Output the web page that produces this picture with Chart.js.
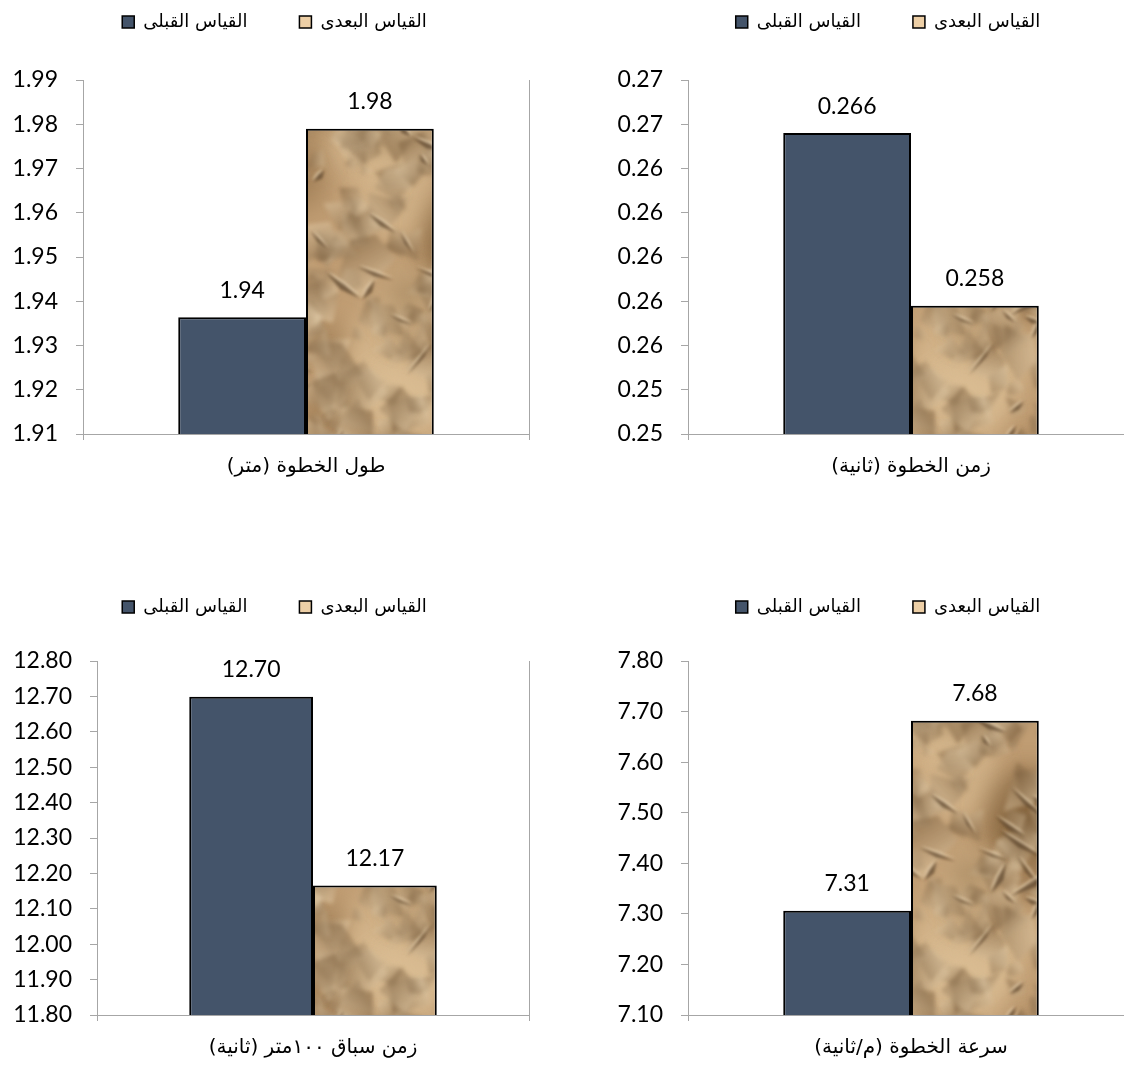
<!DOCTYPE html>
<html>
<head>
<meta charset="utf-8">
<script src="https://cdn.jsdelivr.net/npm/chart.js@4.4.1/dist/chart.umd.min.js"></script>
<style>
    body {
        margin: 0;
        background: #fff;
        width: 1124px;
        height: 1066px;
        overflow: hidden;
        position: relative;
    }
    .panel {
        position: absolute;
        height: 500px;
    }
</style>
</head>
<body>
<div class="panel" style="left:0;top:0;width:562px"><canvas id="chart-length"></canvas></div>
<div class="panel" style="left:562px;top:0;width:572px"><canvas id="chart-time"></canvas></div>
<div class="panel" style="left:0;top:581px;width:562px"><canvas id="chart-race"></canvas></div>
<div class="panel" style="left:562px;top:581px;width:572px"><canvas id="chart-speed"></canvas></div>

<script>
// data
const seriesNames = ["القياس القبلى", "القياس البعدى"];
const categories = ["طول الخطوة (متر)", "زمن الخطوة (ثانية)", "زمن سباق ١٠٠متر (ثانية)", "سرعة الخطوة (م/ثانية)"];
const preValues = [1.9364, 0.2656, 12.699, 7.306];
const postValues = [1.979, 0.2578, 12.166, 7.682];
const axisMin = [1.91, 0.252, 11.8, 7.1];
const axisMax = [1.99, 0.268, 12.8, 7.8];
const axisStep = [0.01, 0.002, 0.1, 0.1];
const tickDecimals = [2, 2, 2, 2];
const valueDecimals = [2, 3, 2, 2];

const numFont = "Lato, 'DejaVu Sans', sans-serif";
const arFont = "'DejaVu Sans', sans-serif";
const axisGray = '#A6A6A6';
const preColor = '#44546A';
const legendFill = [preColor, '#EDCFA6'];

//crumpled paper look for the post-test bars (seeded so it is the same every run)
function paperTexture(w, h) {
    const c = document.createElement('canvas');
    c.width = w;
    c.height = h;
    const g = c.getContext('2d');
    let seed = 20240;
    const rnd = () => {
        seed = (seed * 16807) % 2147483647;
        return (seed - 1) / 2147483646;
    };
    g.fillStyle = '#c09d73';
    g.fillRect(0, 0, w, h);

    // big soft light / dark areas
    g.filter = 'blur(12px)';
    for (let i = 0; i < 90; i++) {
        g.beginPath();
        g.arc(rnd() * w, rnd() * h, 15 + rnd() * 35, 0, Math.PI * 2);
        g.fillStyle = rnd() < 0.5 ? 'rgba(226,198,156,0.5)' : 'rgba(118,86,50,0.35)';
        g.fill();
    }

    // facets, each shaded from light to dark
    g.filter = 'blur(2px)';
    for (let i = 0; i < 700; i++) {
        const x = rnd() * w, y = rnd() * h, r = 8 + rnd() * 22;
        const n = 3 + Math.floor(rnd() * 3);
        const a0 = rnd() * Math.PI * 2;
        g.beginPath();
        for (let k = 0; k < n; k++) {
            const a = a0 + k * Math.PI * 2 / n + rnd() * 0.7;
            const rr = r * (0.5 + rnd() * 0.7);
            g.lineTo(x + Math.cos(a) * rr, y + Math.sin(a) * rr);
        }
        g.closePath();
        const ga = rnd() * Math.PI * 2;
        const grad = g.createLinearGradient(x - Math.cos(ga) * r, y - Math.sin(ga) * r,
            x + Math.cos(ga) * r, y + Math.sin(ga) * r);
        grad.addColorStop(0, 'rgba(236,214,178,0.5)');
        grad.addColorStop(1, 'rgba(105,76,44,0.45)');
        g.fillStyle = grad;
        g.fill();
    }

    // creases: tapered dark folds with a light ridge beside them
    g.filter = 'blur(1.6px)';
    for (let i = 0; i < 170; i++) {
        const x = rnd() * w, y = rnd() * h;
        const ang = (rnd() < 0.7 ? 0.7 : -0.8) + (rnd() - 0.5) * 0.7;
        const len = 14 + rnd() * 36;
        const wdt = 1.5 + rnd() * 3;
        const ux = Math.cos(ang), uy = Math.sin(ang);
        const nx = -uy, ny = ux;
        const fold = (ox, oy, col) => {
            g.beginPath();
            g.moveTo(x + ox, y + oy);
            g.lineTo(x + ux * len * 0.5 + nx * wdt + ox, y + uy * len * 0.5 + ny * wdt + oy);
            g.lineTo(x + ux * len + ox, y + uy * len + oy);
            g.lineTo(x + ux * len * 0.5 - nx * wdt * 0.4 + ox, y + uy * len * 0.5 - ny * wdt * 0.4 + oy);
            g.closePath();
            g.fillStyle = col;
            g.fill();
        };
        fold(-nx * 2.5, -ny * 2.5, 'rgba(240,220,186,0.6)');
        fold(0, 0, 'rgba(74,50,28,0.65)');
    }
    g.filter = 'none';
    return c;
}

const paper = paperTexture(600, 520);

// write the value above each bar
const valueLabels = {
    id: 'valueLabels',
    afterDatasetsDraw(chart, args, opts) {
        const ctx = chart.ctx;
        ctx.save();
        ctx.font = '23px ' + numFont;
        ctx.fillStyle = '#000';
        ctx.textAlign = 'center';
        ctx.textBaseline = 'middle';
        chart.data.datasets.forEach((ds, d) => {
            chart.getDatasetMeta(d).data.forEach((bar, k) => {
                ctx.fillText(ds.data[k].toFixed(opts.decimals), bar.x, bar.y - 27);
            });
        });
        ctx.restore();
    }
};

function makeChart(i, id, axisWidth, rightBorder, dx, dy) {
    const canvas = document.getElementById(id);
    const ctx = canvas.getContext('2d');
    const pattern = ctx.createPattern(paper, 'repeat');

    const scales = {
        x: {
            offset: true,
            grid: {
                display: true,
                offset: true,
                drawOnChartArea: false,
                tickLength: 6,
                color: axisGray
            },
            border: { display: true, color: axisGray, width: 1 },
            ticks: {
                color: '#000',
                padding: 15,
                font: { family: arFont, size: 20 }
            },
            afterFit: s => { s.height = 66; }
        },
        y: {
            min: axisMin[i],
            max: axisMax[i],
            ticks: {
                stepSize: axisStep[i],
                color: '#000',
                padding: 18,
                font: { family: numFont, size: 23 },
                callback: v => v.toFixed(tickDecimals[i])
            },
            grid: {
                display: true,
                drawOnChartArea: false,
                tickLength: 7,
                color: axisGray
            },
            border: { display: true, color: axisGray, width: 1 },
            afterFit: s => { s.width = axisWidth; }
        }
    };
    if (rightBorder) {
        scales.y2 = {
            position: 'right',
            ticks: { display: false },
            grid: { display: false },
            border: { display: true, color: axisGray, width: 1 },
            afterFit: s => { s.width = 0; }
        };
    }

    return new Chart(ctx, {
        type: 'bar',
        data: {
            labels: [categories[i]],
            datasets: [{
                label: seriesNames[0],
                data: [preValues[i]],
                backgroundColor: preColor,
                borderColor: '#000',
                borderWidth: 2,
                borderSkipped: false
            }, {
                label: seriesNames[1],
                data: [postValues[i]],
                backgroundColor: pattern,
                borderColor: '#000',
                borderWidth: 2,
                borderSkipped: false
            }]
        },
        options: {
            responsive: true,
            maintainAspectRatio: false,
            animation: false,
            layout: { padding: { top: 0, right: rightBorder ? 33 : 0, bottom: 0, left: 0 } },
            datasets: {
                bar: { categoryPercentage: 0.573, barPercentage: 1 }
            },
            scales: scales,
            plugins: {
                tooltip: { enabled: false },
                valueLabels: { decimals: valueDecimals[i] },
                legend: {
                    position: 'top',
                    labels: {
                        boxWidth: 12,
                        boxHeight: 12,
                        padding: 52,
                        color: '#000',
                        font: { family: arFont, size: 18 },
                        generateLabels(chart) {
                            const items = Chart.defaults.plugins.legend.labels.generateLabels(chart);
                            items.forEach((it, k) => {
                                it.fillStyle = legendFill[k];
                                it.strokeStyle = '#000';
                                it.lineWidth = 1.5;
                            });
                            return items;
                        }
                    }
                }
            }
        },
        plugins: [valueLabels, {
            id: 'legendShift',
            afterLayout(chart) {
                const l = chart.legend;
                l.left += dx;
                l.right += dx;
                l.top += dy;
                l.bottom += dy;
            }
        }]
    });
}

makeChart(0, 'chart-length', 83, true, 10, -39);
makeChart(1, 'chart-time', 126, false, 40, -39);
makeChart(2, 'chart-race', 97, true, 10, -35);
makeChart(3, 'chart-speed', 126, false, 40, -35);
</script>
</body>
</html>
